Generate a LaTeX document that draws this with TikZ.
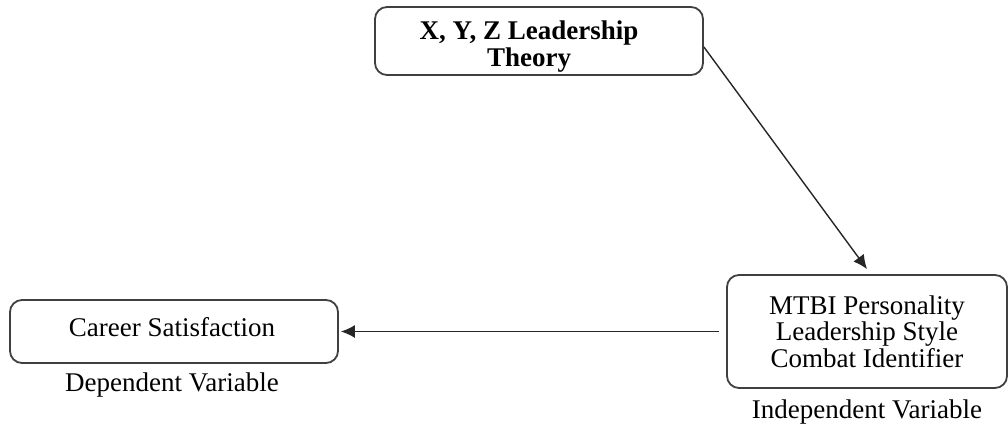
\documentclass[tikz,border=0pt]{standalone}
\usepackage{fontspec}
\setmainfont{Liberation Serif}
\usetikzlibrary{arrows.meta,positioning}

\tikzset{
  varbox/.style={draw=black!75,line width=0.9pt,rounded corners=6pt,
    align=center,inner sep=0pt},
  varlabel/.style={inner sep=0pt,align=center},
  link/.style={->,line width=0.7pt,black!85}
}

\begin{document}
\begin{tikzpicture}[x=0.5pt,y=-0.5pt,>={Latex[length=7pt,width=6.5pt]},
  font=\fontsize{13.5}{13.3}\selectfont]
  \useasboundingbox (0,0) rectangle (1008,427);

  % Boxes
  \node[varbox,minimum width=164pt,minimum height=34pt] (theory) at (539,41) {};
  \node[varlabel,font=\fontsize{13.5}{13.5}\selectfont\bfseries]
    (theorytext) at (529,47) {X, Y, Z Leadership\\Theory};
  \node[varbox,minimum width=140pt,minimum height=56.5pt]
    (indep) at (867,331.5) {MTBI Personality\\Leadership Style\\Combat Identifier};
  \node[varbox,minimum width=164pt,minimum height=31.5pt] (career) at (174,331.5) {};
  \node[varlabel] (careertext) at (172,327) {Career Satisfaction};

  % Labels
  \node[varlabel] (deplabel) at (172,385) {Dependent Variable};
  \node[varlabel] (indeplabel) at (867,412) {Independent Variable};

  % Links
  \draw[link] ([yshift=-3pt]theory.east) -- ([yshift=2.5pt]indep.north);
  \draw[link,shorten <=3.5pt,shorten >=1pt] (indep.west) -- (career.east);
\end{tikzpicture}
\end{document}
